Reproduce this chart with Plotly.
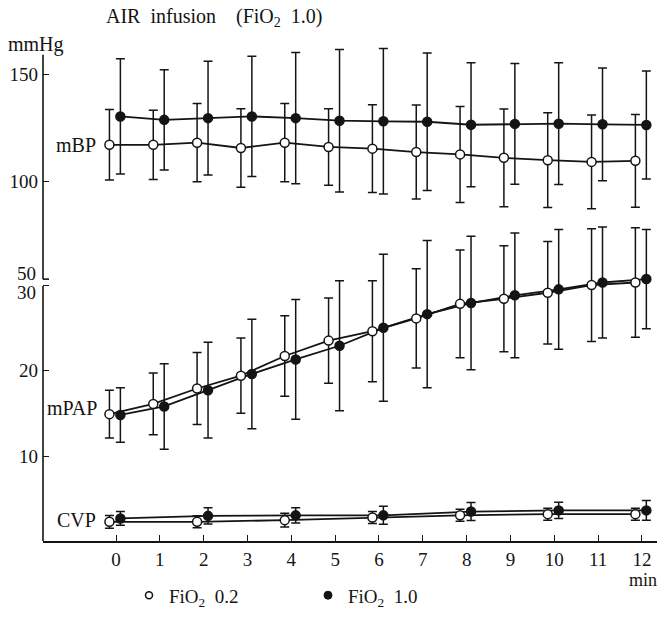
import plotly.graph_objects as go

# ---------------- data ----------------
times = [0, 1, 2, 3, 4, 5, 6, 7, 8, 9, 10, 11, 12]
cvp_times = [0, 2, 4, 6, 8, 10, 12]

mbp_02 = [117.1, 117.1, 118.1, 115.6, 118.1, 116.1, 115.3, 113.7, 112.6, 111.0, 109.9, 109.1, 109.6]
mbp_02_sd = [16.5, 16.2, 18.3, 18.4, 18.3, 17.9, 20.6, 22.0, 22.5, 22.9, 22.2, 22.0, 21.7]
mbp_10 = [130.4, 128.8, 129.6, 130.4, 129.6, 128.4, 128.1, 127.9, 126.5, 126.9, 127.0, 126.7, 126.4]
mbp_10_sd = [27.0, 23.5, 26.6, 28.2, 30.7, 33.4, 34.1, 32.2, 29.0, 28.3, 28.5, 26.4, 25.3]

mpap_02 = [14.9, 16.1, 17.9, 19.4, 21.7, 23.5, 24.6, 26.1, 27.8, 28.4, 29.1, 30.0, 30.3]
mpap_02_sd = [2.8, 3.6, 4.2, 4.4, 4.7, 5.0, 5.9, 5.8, 6.3, 6.2, 6.0, 6.6, 6.4]
mpap_10 = [14.8, 15.8, 17.7, 19.6, 21.3, 22.9, 25.0, 26.6, 27.9, 28.8, 29.5, 30.3, 30.7]
mpap_10_sd = [3.2, 5.0, 5.6, 6.4, 7.0, 7.6, 8.6, 8.6, 7.8, 7.3, 7.0, 6.5, 5.8]

cvp_02 = [2.3, 2.3, 2.5, 2.8, 3.06, 3.2, 3.2]
cvp_02_sd = [0.75, 0.7, 0.8, 0.7, 0.7, 0.7, 0.7]
cvp_10 = [2.7, 3.0, 3.06, 3.06, 3.5, 3.64, 3.64]
cvp_10_sd = [0.8, 0.95, 0.9, 1.05, 1.05, 0.95, 1.15]

x_ticks = list(range(0, 13))
mbp_ticks = [100, 150]
low_ticks = [10, 20, 30]
low_ticktext = ["10", "20", ""]   # "30" is written beside the axis break

# ---------------- layout geometry ----------------
W, H = 661, 618
PL, PR, PT, PB = 43, 657, 40, 547
INK = "#141414"
FONT = "Liberation Serif, Times New Roman, serif"


def px(xp):
    return (xp - PL) / (PR - PL)


def py(yp):
    return (PB - yp) / (PB - PT)


OFF_OPEN, OFF_FILL = -0.15, 0.1

fig = go.Figure()


def add_series(x, y, sd, filled, axis, name, legend=False):
    fig.add_trace(go.Scatter(
        x=[v + (OFF_FILL if filled else OFF_OPEN) for v in x], y=y,
        yaxis=axis, mode="lines+markers", name=name, showlegend=legend,
        line=dict(color=INK, width=1.8),
        marker=dict(size=9, color=INK if filled else "white",
                    symbol="circle", line=dict(color=INK, width=1.5)),
        error_y=dict(type="data", array=sd, visible=True, color=INK,
                     thickness=1.5, width=4.5),
        hoverinfo="skip",
    ))


# filled (FiO2 1.0) first, open (FiO2 0.2) on top
add_series(times, mbp_10, mbp_10_sd, True, "y", "mBP 1.0")
add_series(times, mpap_10, mpap_10_sd, True, "y2", "mPAP 1.0")
add_series(cvp_times, cvp_10, cvp_10_sd, True, "y2", "CVP 1.0")
add_series(times, mbp_02, mbp_02_sd, False, "y", "mBP 0.2")
add_series(times, mpap_02, mpap_02_sd, False, "y2", "mPAP 0.2")
add_series(cvp_times, cvp_02, cvp_02_sd, False, "y2", "CVP 0.2")

# legend-only traces
fig.add_trace(go.Scatter(x=[None], y=[None], mode="markers", name="FiO<sub>2</sub>\u20020.2",
                         marker=dict(size=7, color="white", line=dict(color=INK, width=1.5))))
fig.add_trace(go.Scatter(x=[None], y=[None], mode="markers", name="FiO<sub>2</sub>\u20021.0",
                         marker=dict(size=8, color=INK, line=dict(color=INK, width=1))))

# axis scales (pixel calibration of the original drawing)
x_per = 43.83
x0_pix = 116
y1_per, y1_ref, y1_pix = 2.16, 100, 183
y2_per, y2_pix0 = 8.65, 547.5

xr = [(PL - x0_pix) / x_per, (PR - x0_pix) / x_per]
y1r = [y1_ref - (PB - y1_pix) / y1_per, y1_ref + (y1_pix - PT) / y1_per]
y2r = [(y2_pix0 - PB) / y2_per, (y2_pix0 - PT) / y2_per]

FS = 19
tickfont = dict(family=FONT, size=FS, color=INK)

fig.update_layout(
    width=W, height=H,
    margin=dict(l=PL, r=W - PR, t=PT, b=H - PB),
    paper_bgcolor="white", plot_bgcolor="white",
    font=dict(family=FONT, color=INK),
    xaxis=dict(range=xr, tickvals=x_ticks, ticktext=[str(t) for t in x_ticks],
               ticks="inside", ticklen=6, tickwidth=1.3, tickcolor=INK,
               showline=True, linecolor=INK, linewidth=1.8, showgrid=False,
               zeroline=False, tickfont=tickfont, fixedrange=True),
    yaxis=dict(range=y1r, tickvals=mbp_ticks, ticks="inside", ticklen=6,
               tickwidth=1.3, tickcolor=INK, showline=False, showgrid=False,
               zeroline=False, tickfont=tickfont, ticklabelstandoff=4),
    yaxis2=dict(range=y2r, tickvals=low_ticks, ticktext=low_ticktext, ticks="inside",
                ticklen=6, tickwidth=1.3, tickcolor=INK, showline=False, showgrid=False,
                zeroline=False, tickfont=tickfont, overlaying="y", side="left",
                anchor="x", ticklabelstandoff=4),
    legend=dict(orientation="h", x=px(129), y=py(602), xanchor="left", yanchor="middle",
                font=dict(family=FONT, size=FS, color=INK), entrywidth=134,
                entrywidthmode="pixels", bgcolor="rgba(0,0,0,0)"),
    showlegend=True,
)

# broken left axis drawn in two segments
line_style = dict(color=INK, width=1.6)
fig.add_shape(type="line", xref="paper", yref="paper", x0=0, x1=0, y0=py(55), y1=py(282), line=line_style)
fig.add_shape(type="line", xref="paper", yref="paper", x0=0, x1=px(49), y0=py(282), y1=py(282), line=line_style)
fig.add_shape(type="line", xref="paper", yref="paper", x0=0, x1=0, y0=py(289), y1=0, line=line_style)

ann_font = dict(family=FONT, size=FS + 1, color=INK)
annotations = [
    dict(text="AIR\u2002infusion\u2003(FiO<sub>2</sub>\u20021.0)", x=px(104), y=py(17), xanchor="left"),
    dict(text="mmHg", x=px(6), y=py(45), xanchor="left"),
    dict(text="50", x=px(38), y=py(276), xanchor="right", font=tickfont),
    dict(text="30", x=px(38), y=py(296), xanchor="right", font=tickfont),
    dict(text="mBP", x=px(54), y=py(146), xanchor="left"),
    dict(text="mPAP", x=px(45), y=py(412), xanchor="left"),
    dict(text="CVP", x=px(55), y=py(526), xanchor="left"),
    dict(text="min", x=px(643), y=py(586), xanchor="center",
         font=dict(family=FONT, size=18, color=INK)),
]
for a in annotations:
    a.setdefault("font", ann_font)
    fig.add_annotation(xref="paper", yref="paper", showarrow=False, yanchor="middle", **a)

fig.write_html("out.html", config={"displayModeBar": False},
               post_script="document.body.style.margin='0px';document.body.style.padding='0px';")
